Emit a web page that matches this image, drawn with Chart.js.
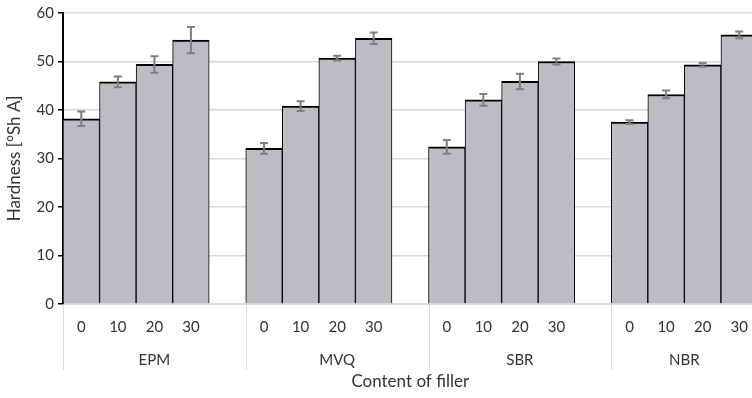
<!DOCTYPE html>
<html>
<head>
<meta charset="utf-8">
<script src="https://cdn.jsdelivr.net/npm/chart.js@4.4.1/dist/chart.umd.min.js"></script>
<style>
  html, body { margin: 0; padding: 0; background: #fff; overflow: hidden; }
  #wrap { position: relative; width: 762px; height: 398px; }
</style>
</head>
<body>
<div id="wrap"><canvas id="myChart"></canvas></div>
<script>
// datos
const grupos = ['EPM', 'MVQ', 'SBR', 'NBR'];
const relleno = ['0', '10', '20', '30'];
const epm = [38.2, 45.8, 49.4, 54.4];
const mvq = [32.1, 40.8, 50.7, 54.8];
const sbr = [32.4, 42.1, 45.9, 50.0];
const nbr = [37.5, 43.2, 49.3, 55.5];
const epmErr = [1.5, 1.1, 1.7, 2.7];
const mvqErr = [1.1, 1.0, 0.5, 1.2];
const sbrErr = [1.4, 1.2, 1.6, 0.6];
const nbrErr = [0.4, 0.8, 0.4, 0.7];
const yTicks = [0, 10, 20, 30, 40, 50, 60];

const fuente = 'Lato, "Open Sans", sans-serif';
const textoColor = '#333333';

// armar categorias: cada grupo + una columna vacia (menos el ultimo)
const series = [epm, mvq, sbr, nbr];
const errores = [epmErr, mvqErr, sbrErr, nbrErr];
let etiquetas = [];
let valores = [];
let errs = [];
series.forEach((s, g) => {
    s.forEach((v, i) => {
        etiquetas.push(relleno[i]);
        valores.push(v);
        errs.push(errores[g][i]);
    });
    if (g < series.length - 1) {
        etiquetas.push('');
        valores.push(null);
        errs.push(null);
    }
});

// barras de error
const barrasError = {
    id: 'barrasError',
    afterDatasetsDraw(chart) {
        const { ctx, scales: { x, y } } = chart;
        ctx.save();
        ctx.strokeStyle = '#7f7f7f';
        ctx.lineWidth = 2;
        valores.forEach((v, i) => {
            if (v === null) return;
            const px = x.getPixelForValue(i);
            const top = y.getPixelForValue(v + errs[i]);
            const bot = y.getPixelForValue(v - errs[i]);
            ctx.beginPath();
            ctx.moveTo(px, top); ctx.lineTo(px, bot);
            ctx.moveTo(px - 4, top); ctx.lineTo(px + 4, top);
            ctx.moveTo(px - 4, bot); ctx.lineTo(px + 4, bot);
            ctx.stroke();
        });
        ctx.restore();
    }
};

// separadores y nombres de grupo
const grupoEje = {
    id: 'grupoEje',
    afterDraw(chart) {
        const { ctx, scales: { x } } = chart;
        const w = x.getPixelForValue(1) - x.getPixelForValue(0);
        const ultimo = valores.length - 1;
        ctx.save();
        ctx.strokeStyle = '#d9d9d9';
        ctx.lineWidth = 1;
        ctx.fillStyle = textoColor;
        ctx.font = '15px ' + fuente;
        ctx.textAlign = 'center';
        ctx.textBaseline = 'middle';
        grupos.forEach((g, k) => {
            const ini = x.getPixelForValue(k * 5) - w / 2;
            const fin = x.getPixelForValue(Math.min(k * 5 + 4, ultimo)) + w / 2;
            const xl = Math.round(ini) + 0.5;
            ctx.beginPath();
            ctx.moveTo(xl, x.top);
            ctx.lineTo(xl, x.top + 66);
            ctx.stroke();
            ctx.fillText(g, (ini + fin) / 2, x.top + 56);
        });
        ctx.restore();
    }
};

new Chart(document.getElementById('myChart'), {
    type: 'bar',
    data: {
        labels: etiquetas,
        datasets: [{
            label: 'Hardness',
            data: valores,
            backgroundColor: '#bcbdc0',
            borderColor: '#000000',
            borderWidth: { top: 2, left: 1, right: 1, bottom: 0 },
            borderSkipped: false,
            barPercentage: 1,
            categoryPercentage: 1
        }]
    },
    options: {
        responsive: true,
        maintainAspectRatio: false,
        animation: false,
        layout: { padding: { top: 13, right: 4, bottom: 0, left: 0 } },
        plugins: {
            legend: { display: false },
            tooltip: { enabled: false }
        },
        scales: {
            x: {
                grid: { display: false, drawTicks: false },
                border: { display: true, color: '#d9d9d9', width: 1 },
                ticks: {
                    color: textoColor,
                    font: { family: fuente, size: 15 },
                    padding: 14,
                    maxRotation: 0,
                    autoSkip: false
                },
                title: {
                    display: true,
                    text: 'Content of filler',
                    color: textoColor,
                    font: { family: fuente, size: 17 },
                    padding: { top: 0, bottom: 6 }
                },
                afterFit: scale => { scale.height = 94; }
            },
            y: {
                min: 0,
                max: 60,
                afterBuildTicks: scale => { scale.ticks = yTicks.map(v => ({ value: v })); },
                grid: {
                    color: '#d9d9d9',
                    tickColor: '#000000',
                    tickLength: 5,
                    lineWidth: 1.5
                },
                border: { display: true, color: '#000000', width: 2 },
                ticks: {
                    color: textoColor,
                    font: { family: fuente, size: 15 },
                    padding: 4
                },
                title: {
                    display: true,
                    text: 'Hardness [°Sh A]',
                    color: textoColor,
                    font: { family: fuente, size: 17 },
                    padding: { top: 4, bottom: 0 }
                },
                afterFit: scale => { scale.width = 63; }
            }
        }
    },
    plugins: [barrasError, grupoEje]
});
</script>
</body>
</html>
